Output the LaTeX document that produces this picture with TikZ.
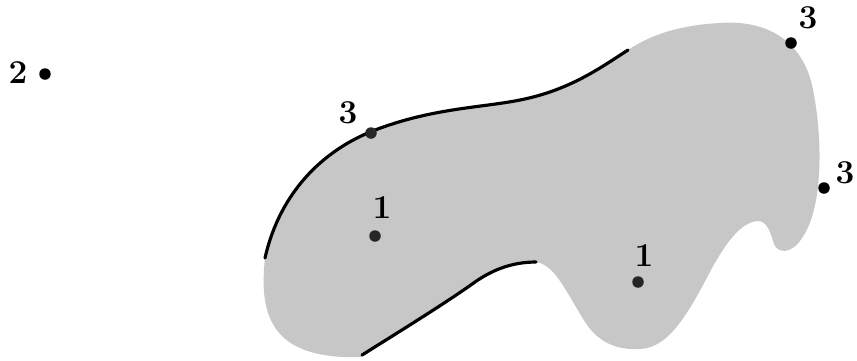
\documentclass[tikz,border=0pt]{standalone}
\usepackage{amsmath,amssymb}
\begin{document}
\begin{tikzpicture}[x=0.02cm,y=-0.02cm,
  pt/.style={circle,fill=black,inner sep=0pt,minimum size=0.23cm},
  num/.style={font=\fontsize{19}{22}\selectfont\bfseries,inner sep=0pt},
  rim/.style={line width=1.8pt,line cap=round}]
\useasboundingbox (0,0) rectangle (857,360);
% shaded region
\fill[black!22] (628,50) .. controls (600,68) and (570,90) .. (520,100) .. controls (480,108) and (430,108) .. (370,132)
  .. controls (315,155) and (278,200) .. (265,258) .. controls (258,320) and (275,360) .. (362,357)
  .. controls (410,325) and (450,300) .. (475,282) .. controls (495,268) and (515,262) .. (536,262)
  .. controls (555,265) and (565,290) .. (585,322) .. controls (600,345) and (620,350) .. (640,349)
  .. controls (670,348) and (690,310) .. (712,268) .. controls (725,245) and (740,222) .. (758,221)
  .. controls (768,221) and (771,235) .. (774,244) .. controls (778,254) and (792,254) .. (802,238)
  .. controls (825,205) and (822,130) .. (812,85)
  .. controls (800,35) and (760,20) .. (720,23) .. controls (680,25) and (650,35) .. (628,50) -- cycle;
% boundary pieces
\draw[rim] (265,258) .. controls (278,200) and (315,155) .. (370,132) .. controls (430,108) and (480,108) .. (520,100) .. controls (570,90) and (600,68) .. (628,50);
\draw[rim] (362,355) .. controls (410,325) and (450,300) .. (475,282) .. controls (495,268) and (515,262) .. (536,262);
% points
\node[pt] (p2) at (45,74) {}; \node[num] (l2) at (18,73) {2};
\node[pt,fill=black!85] (p3a) at (371,133) {}; \node[num] (l3a) at (348,113) {3};
\node[pt] (p3b) at (791,43) {}; \node[num] (l3b) at (808,18) {3};
\node[pt] (p3c) at (824,188) {}; \node[num] (l3c) at (845,173) {3};
\node[pt,fill=black!85] (p1a) at (375,236) {}; \node[num] (l1a) at (382,208) {1};
\node[pt,fill=black!85] (p1b) at (638,282) {}; \node[num] (l1b) at (644,256) {1};
\end{tikzpicture}
\end{document}
